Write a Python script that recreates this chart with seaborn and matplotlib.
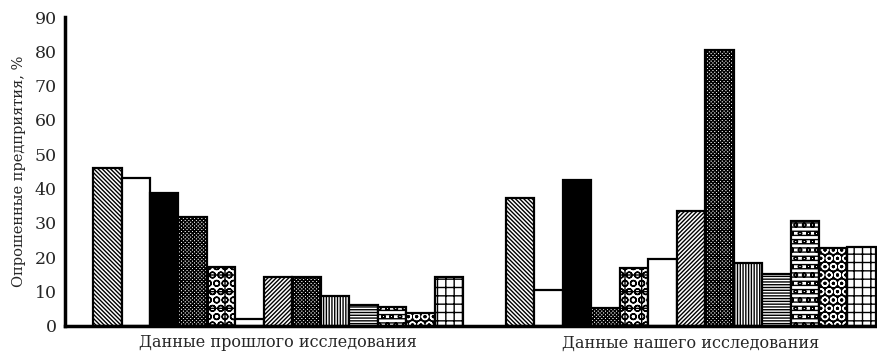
import matplotlib
matplotlib.use("Agg")
import matplotlib.pyplot as plt
import seaborn as sns
import pandas as pd
from matplotlib.patches import Rectangle

groups = ["Данные прошлого исследования", "Данные нашего исследования"]
categories = [f"c{i}" for i in range(1, 14)]
past_values = [46, 43, 38.7, 31.7, 17.3, 2, 14.2, 14.2, 8.8, 6.2, 5.4, 3.7, 14.4]
our_values = [37.2, 10.5, 42.6, 5.2, 16.8, 19.4, 33.6, 80.3, 18.4, 15.1, 30.7, 22.6, 22.9]
y_ticks = [0, 10, 20, 30, 40, 50, 60, 70, 80, 90]
y_label = "Опрошенные предприятия, %"

BS = chr(92)
hatches = [BS * 8, "", "", "x" * 9, "+OO", "", "/" * 8, "x" * 9, "|" * 6,
           "-" * 6, "----oo", "OO", "++"]
faces = ["white", "white", "black", "white", "white", "white", "white", "white",
         "white", "white", "white", "black", "white"]

df = pd.DataFrame({
    "group": [groups[0]] * 13 + [groups[1]] * 13,
    "cat": categories * 2,
    "value": past_values + our_values,
})

sns.set_style("white")
plt.rcParams["font.family"] = ["DejaVu Serif"]
plt.rcParams["hatch.linewidth"] = 1.0

fig = plt.figure(figsize=(8.78, 3.54), dpi=100)
ax = fig.add_axes([65 / 878, 1 - 326 / 354, (878 - 65) / 878, (326 - 17) / 354])

sns.barplot(data=df, x="group", y="value", hue="cat", order=groups,
            hue_order=categories, palette=["white"] * 13, width=0.896,
            edgecolor="black", linewidth=1.6, legend=False, ax=ax, errorbar=None,
            saturation=1)

for cont, h, fc in zip(ax.containers, hatches, faces):
    for p in cont:
        p.set_facecolor(fc)
        p.set_hatch(h)
        if fc == "black" and h:
            p.set_edgecolor("white")
            p.set_linewidth(0)
            ax.add_patch(Rectangle(p.get_xy(), p.get_width(), p.get_height(),
                                   fill=False, edgecolor="black", linewidth=1.6,
                                   zorder=p.get_zorder() + 0.1))
        else:
            p.set_edgecolor("black")

ax.set_xlim(-0.516, 1.453)
ax.set_ylim(0, 90)
ax.set_yticks(y_ticks)
ax.set_yticklabels([str(t) for t in y_ticks], fontsize=12.5)
ax.tick_params(axis="y", direction="in", length=6, width=2, pad=6)
ax.tick_params(axis="x", length=0, pad=6, labelsize=11.5)
ax.set_xlabel("")
ax.set_ylabel(y_label, fontsize=10.5, labelpad=6)

for s in ["top", "right"]:
    ax.spines[s].set_visible(False)
for s in ["left", "bottom"]:
    ax.spines[s].set_linewidth(2.5)
    ax.spines[s].set_color("black")
    ax.spines[s].set_zorder(5)

fig.savefig("out.png", dpi=100)
